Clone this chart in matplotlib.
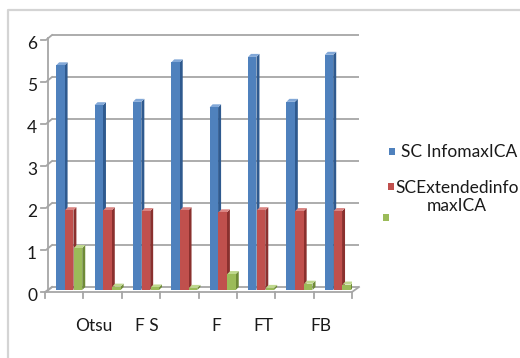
import matplotlib
matplotlib.use("Agg")
import matplotlib.pyplot as plt
from matplotlib.transforms import offset_copy, IdentityTransform
from matplotlib.patches import Polygon, Rectangle
from matplotlib.lines import Line2D

plt.rcParams['font.family'] = ['Lato', 'DejaVu Sans']

# Data
categories = ["c1", "c2", "c3", "c4", "c5", "c6", "c7", "c8"]
x_labels = ["Otsu", "F S", "F", "FT", "FB"]
x_label_pos = [0.78, 2.16, 3.97, 5.19, 6.68]
series_names = ["SC InfomaxICA", "SCExtendedinfo\nmaxICA", ""]
sc_infomax = [5.35, 4.40, 4.48, 5.42, 4.35, 5.55, 4.48, 5.60]
sc_extended = [1.90, 1.90, 1.88, 1.90, 1.85, 1.90, 1.88, 1.88]
third_series = [1.00, 0.08, 0.06, 0.05, 0.38, 0.05, 0.15, 0.13]
y_ticks = [0, 1, 2, 3, 4, 5, 6]

front_colors = ["#4F81BD", "#C0504D", "#9BBB59"]
side_colors = ["#2F5A8F", "#8A302E", "#6E8A37"]
top_colors = ["#82A8D8", "#DA8583", "#BFD88E"]
text_color = "#1A1A1A"
fs = 12.5

W, H = 520, 358
fig = plt.figure(figsize=(W / 100, H / 100), dpi=100)
fig.patch.set_facecolor("white")

# plot area (front plane)
left_px, right_px = 45, 352
top_px, zero_px = 40, 292
ax = fig.add_axes([left_px / W, (H - zero_px) / H,
                   (right_px - left_px) / W, (zero_px - top_px) / H])
ax.set_xlim(-0.5, len(categories) - 0.5)
ax.set_ylim(0, 6)
ax.axis("off")

def tr(dx, dy):
    return offset_copy(ax.transData, fig=fig, x=dx, y=dy, units="dots")

grid_tr = tr(7, 5)
grid_color = "#A6A6A6"
x0, x1 = -0.5, len(categories) - 0.5

# back wall gridlines and floor back edge
for yv in y_ticks:
    ax.plot([x0, x1], [yv, yv], color=grid_color, lw=1.3, transform=grid_tr,
            solid_capstyle="butt", zorder=1, clip_on=False)
# back wall left edge
ax.plot([x0, x0], [0, 6], color=grid_color, lw=1.3, transform=tr(3, 2),
        zorder=1, clip_on=False)

# front floor edge, diagonals and category ticks
ax.plot([x0, x1], [0, 0], color=grid_color, lw=1.3, zorder=1, clip_on=False)
to_px = ax.transData.transform
for xe in (x0, x1):
    p = to_px((xe, 0))
    fig.add_artist(Line2D([p[0], p[0] + 7], [p[1], p[1] + 5], color=grid_color,
                          lw=1.3, transform=IdentityTransform()))
for k in range(len(categories) + 1):
    p = to_px((x0 + k, 0))
    fig.add_artist(Line2D([p[0], p[0]], [p[1], p[1] - 6], color=grid_color,
                          lw=1.3, transform=IdentityTransform()))

# value ticks on the left wall
for yv in y_ticks:
    p = to_px((x0, yv))
    fig.add_artist(Line2D([p[0] - 4, p[0] + 1, p[0] + 7],
                          [p[1], p[1], p[1] + 5], color=grid_color, lw=1.3,
                          transform=IdentityTransform()))
    ax.text(x0, yv, str(yv), transform=tr(-8, -4), ha="right", va="center",
            fontsize=fs, color=text_color)

# 3D-looking columns
px_per_x = ax.bbox.width / (x1 - x0)
px_per_y = ax.bbox.height / 6
ddx, ddy = 3 / px_per_x, 3 / px_per_y
bw = 0.22
bar_tr = tr(5, 2)
all_series = [sc_infomax, sc_extended, third_series]
for s, vals in enumerate(all_series):
    for i, v in enumerate(vals):
        xc = i + (s - 1) * 0.23
        xl, xr = xc - bw / 2, xc + bw / 2
        z = 3 + s
        ax.add_patch(Polygon([(xr, 0), (xr + ddx, ddy), (xr + ddx, v + ddy), (xr, v)],
                             closed=True, facecolor=side_colors[s], edgecolor="none",
                             transform=bar_tr, zorder=z))
        ax.add_patch(Polygon([(xl, v), (xr, v), (xr + ddx, v + ddy), (xl + ddx, v + ddy)],
                             closed=True, facecolor=top_colors[s], edgecolor="none",
                             transform=bar_tr, zorder=z))
        ax.add_patch(Rectangle((xl, 0), bw, v, facecolor=front_colors[s],
                               edgecolor="none", transform=bar_tr, zorder=z))

# category labels
for lab, xp in zip(x_labels, x_label_pos):
    ax.text(xp, 0, lab, transform=tr(0, -34), ha="center", va="center",
            fontsize=fs, color=text_color)

# legend
def px_y(y_top):
    return H - y_top

legend_items = [(392, 152, 0), (391, 187, 1), (386, 218, 2)]
for (mx, my, s) in legend_items:
    fig.add_artist(Rectangle((mx - 3, px_y(my) - 3), 6, 7, facecolor=front_colors[s],
                             edgecolor="none", transform=IdentityTransform()))
fig.text(401 / W, px_y(152) / H, series_names[0], ha="left", va="center",
         fontsize=fs, color=text_color)
fig.text(457 / W, px_y(197) / H, series_names[1], ha="center", va="center",
         fontsize=fs, color=text_color, multialignment="center", linespacing=1.15)

# chart area border
fig.add_artist(Line2D([8, 8, W], [0, H - 10, H - 10], color="#D4D4D4", lw=1.6,
                      transform=IdentityTransform()))

fig.savefig("out.png", dpi=100)
